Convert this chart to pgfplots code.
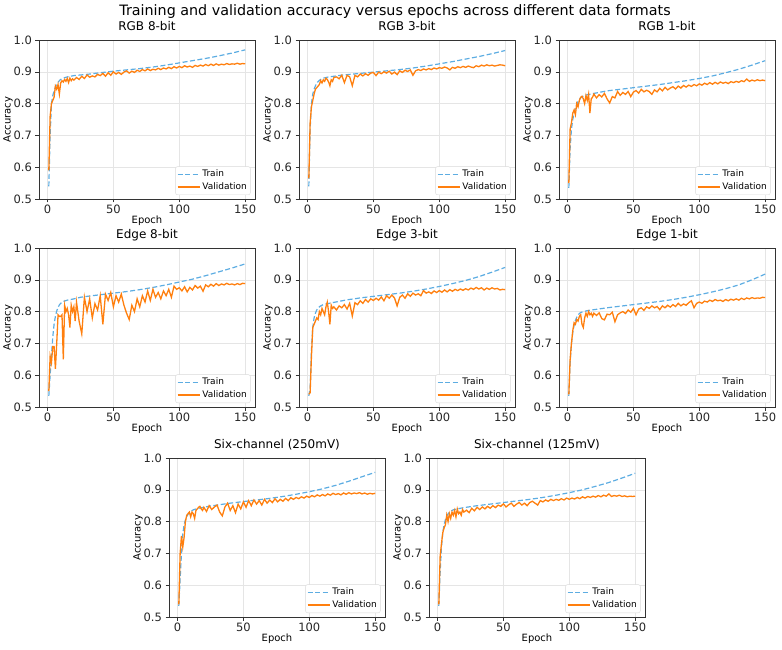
\documentclass[border=0pt]{standalone}
\usepackage{pgfplots}
\pgfplotsset{compat=1.18}
\usepackage{fontspec}
\setmainfont{DejaVu Sans}
\definecolor{trainblue}{HTML}{5DADE2}
\definecolor{valorange}{HTML}{FF7F0E}
\pgfplotsset{
 accax/.style={
  scale only axis, width=216pt, height=159pt, anchor=south west,
  xmin=-6.45, xmax=157.45, ymin=0.5, ymax=1.0,
  xtick={0,50,100,150}, ytick={0.5,0.6,0.7,0.8,0.9,1.0},
  yticklabel style={/pgf/number format/.cd, fixed, fixed zerofill, precision=1},
  /pgf/number format/assume math mode=true,
  tick label style={font=\fontsize{11.5}{13}\selectfont, text=black!85},
  xticklabel style={yshift=1pt},
  label style={font=\fontsize{10}{12}\selectfont},
  xlabel style={at={(axis description cs:0.5,-0.138)}, anchor=center},
  ylabel style={at={(axis description cs:-0.143,0.5)}, anchor=center, rotate=0},
  title style={font=\fontsize{12}{14}\selectfont, at={(axis description cs:0.5,1)}, anchor=base, yshift=3.5pt},
  xlabel=Epoch, ylabel=Accuracy,
  grid=major, major grid style={gray!20, line width=0.5pt},
  tick align=outside, tick pos=left, major tick length=3.5pt,
  every tick/.style={black!80, line width=0.6pt},
  axis line style={black!80, line width=0.6pt},
  legend style={at={(1,0)}, anchor=south east, xshift=-4.5pt, yshift=4pt, draw=gray!30, rounded corners=2pt, font=\fontsize{9}{11}\selectfont, row sep=0.5pt, inner xsep=1.5pt, inner ysep=1.5pt},
  legend cell align=left,
  legend image code/.code={\draw[##1] plot coordinates {(0pt,0pt) (11pt,0pt) (22pt,0pt)};},
 },
 trainst/.style={color=trainblue, line width=1.2pt, dash pattern=on 5pt off 2.5pt},
 valst/.style={color=valorange, line width=1.3pt},
}
\begin{document}
\begin{tikzpicture}
\path[use as bounding box] (0,0) rectangle (782pt,649pt);
\node[font=\fontsize{14.3}{17}\selectfont] at (395pt,637pt) {Training and validation accuracy versus epochs across different data formats};

% RGB 8-bit
\begin{axis}[accax, at={(39pt,450pt)}, title={RGB 8-bit}]
\addplot[trainst] coordinates {(1,0.54)(2,0.70)(3,0.80)(4,0.825)(5,0.84)(6,0.852)(7,0.861)(8,0.867)(9,0.872)(10,0.876)(12,0.880)(15,0.884)(20,0.888)(25,0.890)(30,0.892)(40,0.897)(50,0.902)(60,0.906)(70,0.910)(80,0.915)(90,0.921)(100,0.928)(110,0.935)(120,0.942)(130,0.950)(140,0.959)(150,0.969)};
\addlegendentry{Train}
\addplot[valst] coordinates {(1,0.59)(2,0.76)(3,0.80)(4,0.81)(5,0.82)(6,0.855)(7,0.845)(8,0.86)(9,0.83)(10,0.865)(11,0.872)(12,0.868)(13,0.876)(14,0.870)(15,0.879)(16,0.866)(17,0.880)(18,0.872)(19,0.878)(20,0.874)
(22,0.882)(24,0.876)(26,0.886)(28,0.879)(30,0.890)(32,0.883)(34,0.887)(36,0.884)(38,0.892)(40,0.888)(42,0.895)(44,0.886)(46,0.897)(48,0.889)(50,0.900)(52,0.893)(54,0.898)(56,0.892)(58,0.899)(60,0.903)(62,0.896)(64,0.902)(66,0.898)(68,0.905)(70,0.901)(72,0.907)(74,0.903)(76,0.909)(78,0.904)(80,0.908)(82,0.906)(84,0.911)(86,0.907)(88,0.912)(90,0.909)(92,0.914)(94,0.910)(96,0.916)(98,0.912)(100,0.917)(102,0.913)(104,0.919)(106,0.915)(108,0.918)(110,0.914)(112,0.920)(114,0.917)(116,0.921)(118,0.918)(120,0.923)(122,0.919)(124,0.924)(126,0.920)(128,0.925)(130,0.921)(132,0.924)(134,0.922)(136,0.926)(138,0.923)(140,0.925)(142,0.924)(144,0.927)(146,0.924)(148,0.926)(150,0.925)};
\addlegendentry{Validation}
\end{axis}

% RGB 3-bit
\begin{axis}[accax, at={(299pt,450pt)}, title={RGB 3-bit}]
\addplot[trainst] coordinates {(1,0.54)(2,0.72)(3,0.80)(4,0.83)(5,0.845)(6,0.856)(7,0.864)(8,0.869)(9,0.873)(10,0.876)(12,0.880)(15,0.883)(20,0.886)(25,0.889)(30,0.891)(40,0.895)(50,0.899)(60,0.903)(70,0.907)(80,0.912)(90,0.918)(100,0.925)(110,0.932)(120,0.940)(130,0.948)(140,0.957)(150,0.967)};
\addlegendentry{Train}
\addplot[valst] coordinates {(1,0.565)(2,0.74)(3,0.79)(4,0.81)(5,0.83)(6,0.845)(7,0.85)(8,0.855)(9,0.86)(10,0.872)(11,0.865)(12,0.875)(13,0.870)(14,0.880)(15,0.876)(16,0.868)(17,0.856)(18,0.875)(19,0.870)(20,0.882)
(22,0.884)(24,0.878)(26,0.889)(28,0.866)(30,0.889)(32,0.884)(34,0.856)(36,0.889)(38,0.884)(40,0.893)(42,0.887)(44,0.894)(46,0.889)(48,0.896)(50,0.898)(52,0.888)(54,0.899)(56,0.894)(58,0.900)(60,0.896)(62,0.902)(64,0.893)(66,0.899)(68,0.891)(70,0.903)(72,0.898)(74,0.905)(76,0.901)(78,0.906)(80,0.889)(82,0.903)(84,0.907)(86,0.904)(88,0.909)(90,0.906)(92,0.910)(94,0.907)(96,0.912)(98,0.909)(100,0.913)(102,0.911)(104,0.915)(106,0.912)(108,0.906)(110,0.914)(112,0.911)(114,0.916)(116,0.913)(118,0.917)(120,0.914)(122,0.918)(124,0.915)(126,0.913)(128,0.919)(130,0.916)(132,0.921)(134,0.918)(136,0.922)(138,0.919)(140,0.921)(142,0.918)(144,0.920)(146,0.922)(148,0.921)(150,0.919)};
\addlegendentry{Validation}
\end{axis}

% RGB 1-bit
\begin{axis}[accax, at={(559pt,450pt)}, title={RGB 1-bit}]
\addplot[trainst] coordinates {(1,0.535)(2,0.66)(3,0.72)(4,0.75)(5,0.77)(6,0.785)(7,0.797)(8,0.806)(9,0.813)(10,0.818)(12,0.824)(15,0.828)(20,0.832)(25,0.836)(30,0.840)(40,0.845)(50,0.850)(60,0.855)(70,0.860)(80,0.866)(90,0.872)(100,0.879)(110,0.887)(120,0.897)(130,0.908)(140,0.921)(150,0.935)};
\addlegendentry{Train}
\addplot[valst] coordinates {(1,0.55)(2,0.72)(3,0.74)(4,0.77)(5,0.78)(6,0.765)(7,0.80)(8,0.79)(9,0.81)(10,0.82)(11,0.823)(12,0.815)(13,0.80)(14,0.825)(15,0.81)(16,0.83)(17,0.77)(18,0.815)(19,0.82)(20,0.83)
(22,0.818)(24,0.828)(26,0.821)(28,0.832)(30,0.815)(32,0.802)(34,0.822)(36,0.818)(38,0.838)(40,0.826)(42,0.835)(44,0.829)(46,0.838)(48,0.822)(50,0.836)(52,0.841)(54,0.833)(56,0.845)(58,0.837)(60,0.842)(62,0.838)(64,0.829)(66,0.843)(68,0.837)(70,0.848)(72,0.840)(74,0.851)(76,0.843)(78,0.849)(80,0.853)(82,0.846)(84,0.855)(86,0.849)(88,0.857)(90,0.852)(92,0.858)(94,0.854)(96,0.860)(98,0.856)(100,0.862)(102,0.858)(104,0.864)(106,0.860)(108,0.866)(110,0.861)(112,0.867)(114,0.862)(116,0.868)(118,0.864)(120,0.867)(122,0.863)(124,0.869)(126,0.866)(128,0.870)(130,0.867)(132,0.872)(134,0.869)(136,0.877)(138,0.870)(140,0.874)(142,0.871)(144,0.875)(146,0.872)(148,0.874)(150,0.872)};
\addlegendentry{Validation}
\end{axis}

% Edge 8-bit
\begin{axis}[accax, at={(39pt,242pt)}, title={Edge 8-bit}]
\addplot[trainst] coordinates {(1,0.535)(2,0.60)(3,0.66)(4,0.72)(5,0.76)(6,0.785)(7,0.802)(8,0.813)(9,0.821)(10,0.826)(12,0.832)(15,0.836)(20,0.840)(25,0.845)(30,0.848)(40,0.853)(50,0.858)(60,0.863)(70,0.869)(80,0.876)(90,0.884)(100,0.893)(110,0.902)(120,0.913)(130,0.925)(140,0.937)(150,0.950)};
\addlegendentry{Train}
\addplot[valst] coordinates {(1,0.55)(2,0.66)(3,0.64)(4,0.69)(5,0.69)(6,0.62)(7,0.70)(8,0.79)(9,0.785)(10,0.785)(11,0.79)(12,0.65)(13,0.82)(14,0.80)(15,0.81)(16,0.79)(17,0.75)(18,0.82)(19,0.80)(20,0.815)(21,0.77)
(22,0.830)(24,0.770)(26,0.730)(28,0.845)(30,0.800)(32,0.840)(34,0.780)(36,0.825)(38,0.805)(40,0.850)(42,0.760)(44,0.855)(46,0.835)(48,0.860)(50,0.815)(52,0.850)(54,0.830)(56,0.855)(58,0.820)(60,0.795)(62,0.775)(64,0.820)(66,0.800)(68,0.840)(70,0.815)(72,0.850)(74,0.830)(76,0.865)(78,0.835)(80,0.870)(82,0.845)(84,0.860)(86,0.840)(88,0.865)(90,0.850)(92,0.870)(94,0.845)(96,0.880)(98,0.870)(100,0.875)(102,0.865)(104,0.878)(106,0.862)(108,0.876)(110,0.868)(112,0.882)(114,0.874)(116,0.880)(118,0.864)(120,0.884)(122,0.878)(124,0.886)(126,0.880)(128,0.888)(130,0.882)(132,0.887)(134,0.884)(136,0.889)(138,0.885)(140,0.887)(142,0.884)(144,0.888)(146,0.885)(148,0.889)(150,0.888)};
\addlegendentry{Validation}
\end{axis}

% Edge 3-bit
\begin{axis}[accax, at={(299pt,242pt)}, title={Edge 3-bit}]
\addplot[trainst] coordinates {(1,0.535)(2,0.56)(3,0.68)(4,0.75)(5,0.78)(6,0.795)(7,0.805)(8,0.811)(9,0.815)(10,0.818)(12,0.822)(15,0.825)(20,0.829)(25,0.833)(30,0.837)(40,0.843)(50,0.848)(60,0.853)(70,0.858)(80,0.864)(90,0.871)(100,0.879)(110,0.888)(120,0.898)(130,0.910)(140,0.924)(150,0.939)};
\addlegendentry{Train}
\addplot[valst] coordinates {(1,0.54)(2,0.545)(3,0.66)(4,0.75)(5,0.76)(6,0.77)(7,0.78)(8,0.775)(9,0.80)(10,0.79)(11,0.81)(12,0.80)(13,0.79)(14,0.815)(15,0.83)(16,0.80)(17,0.76)(18,0.82)(19,0.81)(20,0.815)
(22,0.805)(24,0.818)(26,0.812)(28,0.822)(30,0.808)(32,0.826)(34,0.786)(36,0.828)(38,0.822)(40,0.834)(42,0.826)(44,0.838)(46,0.830)(48,0.840)(50,0.835)(52,0.842)(54,0.836)(56,0.846)(58,0.834)(60,0.850)(62,0.842)(64,0.852)(66,0.843)(68,0.818)(70,0.845)(72,0.852)(74,0.842)(76,0.856)(78,0.848)(80,0.858)(82,0.852)(84,0.856)(86,0.850)(88,0.866)(90,0.858)(92,0.862)(94,0.857)(96,0.865)(98,0.860)(100,0.866)(102,0.861)(104,0.868)(106,0.862)(108,0.869)(110,0.864)(112,0.870)(114,0.866)(116,0.871)(118,0.867)(120,0.872)(122,0.868)(124,0.874)(126,0.870)(128,0.876)(130,0.871)(132,0.875)(134,0.868)(136,0.874)(138,0.870)(140,0.875)(142,0.871)(144,0.873)(146,0.868)(148,0.870)(150,0.869)};
\addlegendentry{Validation}
\end{axis}

% Edge 1-bit
\begin{axis}[accax, at={(559pt,242pt)}, title={Edge 1-bit}]
\addplot[trainst] coordinates {(1,0.535)(2,0.64)(3,0.70)(4,0.735)(5,0.757)(6,0.772)(7,0.782)(8,0.789)(9,0.794)(10,0.797)(12,0.800)(15,0.803)(20,0.806)(25,0.809)(30,0.812)(40,0.817)(50,0.822)(60,0.827)(70,0.832)(80,0.838)(90,0.845)(100,0.853)(110,0.862)(120,0.872)(130,0.884)(140,0.900)(150,0.918)};
\addlegendentry{Train}
\addplot[valst] coordinates {(1,0.54)(2,0.65)(3,0.70)(4,0.74)(5,0.765)(6,0.76)(7,0.775)(8,0.77)(9,0.785)(10,0.79)(11,0.76)(12,0.75)(13,0.78)(14,0.795)(15,0.785)(16,0.80)(17,0.79)(18,0.795)(19,0.785)(20,0.795)
(22,0.788)(24,0.796)(26,0.778)(28,0.774)(30,0.792)(32,0.790)(34,0.798)(36,0.768)(38,0.790)(40,0.796)(42,0.800)(44,0.794)(46,0.805)(48,0.798)(50,0.810)(52,0.790)(54,0.808)(56,0.812)(58,0.804)(60,0.815)(62,0.810)(64,0.818)(66,0.812)(68,0.816)(70,0.806)(72,0.818)(74,0.812)(76,0.820)(78,0.814)(80,0.822)(82,0.816)(84,0.826)(86,0.818)(88,0.824)(90,0.820)(92,0.828)(94,0.834)(96,0.812)(98,0.826)(100,0.830)(102,0.826)(104,0.833)(106,0.830)(108,0.836)(110,0.832)(112,0.838)(114,0.834)(116,0.836)(118,0.832)(120,0.838)(122,0.834)(124,0.839)(126,0.836)(128,0.840)(130,0.836)(132,0.842)(134,0.838)(136,0.843)(138,0.840)(140,0.844)(142,0.841)(144,0.843)(146,0.842)(148,0.845)(150,0.844)};
\addlegendentry{Validation}
\end{axis}

% Six-channel (250mV)
\begin{axis}[accax, at={(169pt,32pt)}, title={Six-channel (250mV)}]
\addplot[trainst] coordinates {(1,0.535)(2,0.62)(3,0.70)(4,0.76)(5,0.79)(6,0.805)(7,0.816)(8,0.823)(9,0.828)(10,0.832)(12,0.837)(15,0.841)(20,0.845)(25,0.849)(30,0.852)(40,0.858)(50,0.863)(60,0.868)(70,0.873)(80,0.879)(90,0.886)(100,0.894)(110,0.903)(120,0.914)(130,0.927)(140,0.941)(150,0.955)};
\addlegendentry{Train}
\addplot[valst] coordinates {(1,0.54)(2,0.70)(3,0.755)(4,0.72)(5,0.75)(6,0.80)(7,0.82)(8,0.825)(9,0.83)(10,0.815)(11,0.83)(12,0.825)(13,0.81)(14,0.835)(15,0.84)(16,0.845)(17,0.848)(18,0.84)(19,0.835)(20,0.845)
(22,0.832)(24,0.850)(26,0.838)(28,0.846)(30,0.852)(32,0.830)(34,0.818)(36,0.846)(38,0.858)(40,0.835)(42,0.850)(44,0.828)(46,0.855)(48,0.840)(50,0.862)(52,0.845)(54,0.866)(56,0.850)(58,0.868)(60,0.855)(62,0.866)(64,0.852)(66,0.870)(68,0.858)(70,0.868)(72,0.860)(74,0.872)(76,0.862)(78,0.870)(80,0.864)(82,0.873)(84,0.866)(86,0.875)(88,0.870)(90,0.876)(92,0.872)(94,0.878)(96,0.874)(98,0.880)(100,0.876)(102,0.882)(104,0.878)(106,0.884)(108,0.880)(110,0.885)(112,0.881)(114,0.887)(116,0.883)(118,0.889)(120,0.885)(122,0.888)(124,0.884)(126,0.890)(128,0.886)(130,0.891)(132,0.887)(134,0.890)(136,0.888)(138,0.891)(140,0.887)(142,0.890)(144,0.886)(146,0.889)(148,0.887)(150,0.889)};
\addlegendentry{Validation}
\end{axis}

% Six-channel (125mV)
\begin{axis}[accax, at={(429pt,32pt)}, title={Six-channel (125mV)}]
\addplot[trainst] coordinates {(1,0.535)(2,0.64)(3,0.72)(4,0.765)(5,0.79)(6,0.806)(7,0.817)(8,0.824)(9,0.829)(10,0.833)(12,0.837)(15,0.840)(20,0.844)(25,0.847)(30,0.850)(40,0.855)(50,0.860)(60,0.865)(70,0.870)(80,0.876)(90,0.883)(100,0.891)(110,0.900)(120,0.911)(130,0.923)(140,0.937)(150,0.952)};
\addlegendentry{Train}
\addplot[valst] coordinates {(1,0.54)(2,0.69)(3,0.73)(4,0.765)(5,0.78)(6,0.79)(7,0.82)(8,0.80)(9,0.825)(10,0.81)(11,0.83)(12,0.82)(13,0.835)(14,0.815)(15,0.84)(16,0.825)(17,0.83)(18,0.82)(19,0.838)(20,0.83)
(22,0.836)(24,0.828)(26,0.842)(28,0.834)(30,0.845)(32,0.838)(34,0.846)(36,0.840)(38,0.848)(40,0.842)(42,0.850)(44,0.844)(46,0.852)(48,0.848)(50,0.856)(52,0.846)(54,0.853)(56,0.858)(58,0.848)(60,0.855)(62,0.860)(64,0.852)(66,0.858)(68,0.850)(70,0.860)(72,0.864)(74,0.858)(76,0.852)(78,0.866)(80,0.862)(82,0.868)(84,0.864)(86,0.870)(88,0.866)(90,0.870)(92,0.867)(94,0.872)(96,0.868)(98,0.874)(100,0.870)(102,0.874)(104,0.871)(106,0.876)(108,0.872)(110,0.878)(112,0.874)(114,0.879)(116,0.876)(118,0.880)(120,0.877)(122,0.882)(124,0.878)(126,0.883)(128,0.880)(130,0.887)(132,0.879)(134,0.882)(136,0.880)(138,0.883)(140,0.879)(142,0.881)(144,0.878)(146,0.880)(148,0.879)(150,0.880)};
\addlegendentry{Validation}
\end{axis}
\end{tikzpicture}
\end{document}
